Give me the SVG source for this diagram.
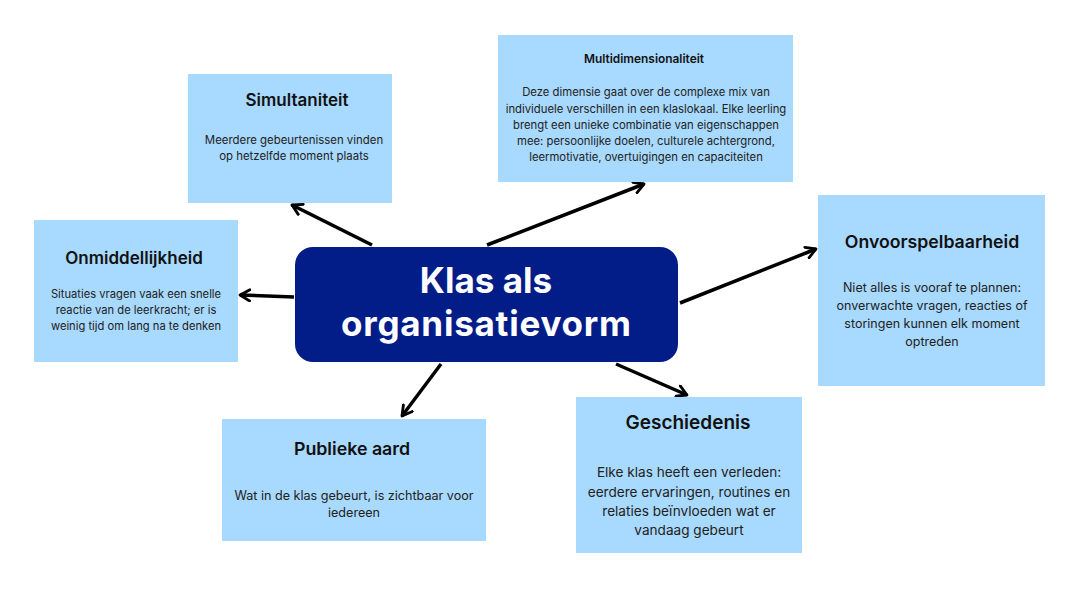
<svg xmlns="http://www.w3.org/2000/svg" width="1069" height="589" viewBox="0 0 1069 589">
<defs>
<style>
.box{fill:#a8d9fe;}
.t{font-family:Inter,"Noto Sans",sans-serif;font-weight:600;fill:#111;text-anchor:middle;}
.b{font-family:Inter,"Noto Sans",sans-serif;fill:#222;text-anchor:middle;}
.c{font-family:Inter,"Noto Sans",sans-serif;font-weight:700;fill:#fff;text-anchor:middle;font-size:35px;}
.ln{stroke:#000;stroke-width:3.5;fill:none;marker-end:url(#ah);}
</style>
<marker id="ah" viewBox="0 0 10 10" refX="8" refY="5" markerWidth="4" markerHeight="4" orient="auto" markerUnits="strokeWidth">
<path d="M1,1 L8,5 L1,9" fill="none" stroke="#000" stroke-width="2" stroke-linecap="round" stroke-linejoin="round"/>
</marker>
</defs>
<rect width="1069" height="589" fill="#fff"/>
<g id="connectors">
<line class="ln" x1="372" y1="245" x2="292" y2="205"/>
<line class="ln" x1="487" y1="245" x2="644" y2="184"/>
<line class="ln" x1="294" y1="297" x2="240" y2="295"/>
<line class="ln" x1="680" y1="303" x2="816" y2="249"/>
<line class="ln" x1="441" y1="364" x2="402" y2="416"/>
<line class="ln" x1="616" y1="364" x2="687" y2="395"/>
</g>
<g id="center">
<rect x="295" y="247" width="383" height="115" rx="18" fill="#021d88"/>
<text class="c" x="486" y="293">Klas als</text>
<text class="c" x="486" y="336" textLength="290" lengthAdjust="spacing">organisatievorm</text>
</g>
<g id="simultaniteit">
<rect class="box" x="188" y="74" width="204" height="129"/>
<text class="t" x="297" y="106" font-size="17">Simultaniteit</text>
<text class="b" x="294" y="144" font-size="11.4">Meerdere gebeurtenissen vinden</text>
<text class="b" x="294" y="160" font-size="11.4">op hetzelfde moment plaats</text>
</g>
<g id="multidimensionaliteit">
<rect class="box" x="498" y="35" width="295" height="147"/>
<text class="t" x="644" y="63" font-size="11.9">Multidimensionaliteit</text>
<text class="b" x="646" y="96" font-size="11.3">Deze dimensie gaat over de complexe mix van</text>
<text class="b" x="646" y="113" font-size="11.3">individuele verschillen in een klaslokaal. Elke leerling</text>
<text class="b" x="646" y="129" font-size="11.3">brengt een unieke combinatie van eigenschappen</text>
<text class="b" x="646" y="145" font-size="11.3">mee: persoonlijke doelen, culturele achtergrond,</text>
<text class="b" x="646" y="161" font-size="11.3">leermotivatie, overtuigingen en capaciteiten</text>
</g>
<g id="onmiddellijkheid">
<rect class="box" x="34" y="220" width="204" height="142"/>
<text class="t" x="134" y="264" font-size="17">Onmiddellijkheid</text>
<text class="b" x="136" y="298" font-size="11.2">Situaties vragen vaak een snelle</text>
<text class="b" x="136" y="314" font-size="11.2">reactie van de leerkracht; er is</text>
<text class="b" x="136" y="330" font-size="11.2">weinig tijd om lang na te denken</text>
</g>
<g id="onvoorspelbaarheid">
<rect class="box" x="818" y="195" width="227" height="191"/>
<text class="t" x="932" y="248" font-size="17.7">Onvoorspelbaarheid</text>
<text class="b" x="932" y="292" font-size="12.5">Niet alles is vooraf te plannen:</text>
<text class="b" x="932" y="310" font-size="12.5">onverwachte vragen, reacties of</text>
<text class="b" x="932" y="328" font-size="12.5">storingen kunnen elk moment</text>
<text class="b" x="932" y="346" font-size="12.5">optreden</text>
</g>
<g id="publieke-aard">
<rect class="box" x="222" y="419" width="264" height="122"/>
<text class="t" x="352" y="455" font-size="17.8">Publieke aard</text>
<text class="b" x="354" y="500" font-size="12.6">Wat in de klas gebeurt, is zichtbaar voor</text>
<text class="b" x="354" y="517" font-size="12.6">iedereen</text>
</g>
<g id="geschiedenis">
<rect class="box" x="576" y="397" width="226" height="156"/>
<text class="t" x="688" y="429" font-size="19">Geschiedenis</text>
<text class="b" x="689" y="477" font-size="13.6">Elke klas heeft een verleden:</text>
<text class="b" x="689" y="497" font-size="13.6">eerdere ervaringen, routines en</text>
<text class="b" x="689" y="516" font-size="13.6">relaties beïnvloeden wat er</text>
<text class="b" x="689" y="535" font-size="13.6">vandaag gebeurt</text>
</g>
</svg>
